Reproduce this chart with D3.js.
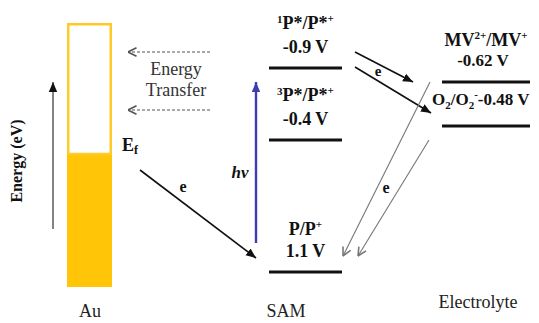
<!DOCTYPE html>
<html>
<head>
<meta charset="utf-8">
<script src="https://cdn.jsdelivr.net/npm/d3@7/dist/d3.min.js"></script>
<style>
  html, body { margin: 0; padding: 0; background: #fff; }
  svg { display: block; }
  text { font-family: "Liberation Serif", "Times New Roman", Times, serif; }
</style>
</head>
<body>
<svg id="chart" width="539" height="323"></svg>
<script>
// Redox levels (V) of the monolayer (SAM) and of the electrolyte couples
const samLevels = [-0.9, -0.4, 1.1];
const samCouples = [["1", "P*/P*", "+"], ["3", "P*/P*", "+"], ["", "P/P", "+"]];
const electrolyteLevels = [-0.62, -0.48];
const columns = ["Au", "SAM", "Electrolyte"];

const svg = d3.select("#chart");
const SERIF = "'Liberation Serif', 'Times New Roman', Times, serif";

// Schematic (non-proportional) energy axis: levels keep their order only
const y = d3.scaleLinear()
  .domain([-0.9, -0.62, -0.48, -0.4, 1.1])
  .range([68, 82, 126, 140, 272]);

// Column centres
const x = d3.scaleOrdinal().domain(columns).range([89.5, 305.5, 486]);

const defs = svg.append("defs");
function filledHead(id, color) {
  defs.append("marker").attr("id", id)
    .attr("viewBox", "0 0 10 10").attr("refX", 10).attr("refY", 5)
    .attr("markerWidth", 10).attr("markerHeight", 10)
    .attr("markerUnits", "userSpaceOnUse")
    .attr("orient", "auto")
    .append("path").attr("d", "M0,0.8 L10,5 L0,9.2 Z").attr("fill", color);
}
function openHead(id, color) {
  defs.append("marker").attr("id", id)
    .attr("viewBox", "0 0 10 10").attr("refX", 9.5).attr("refY", 5)
    .attr("markerWidth", 10).attr("markerHeight", 10)
    .attr("markerUnits", "userSpaceOnUse")
    .attr("orient", "auto")
    .append("path").attr("d", "M1,0.8 L9.5,5 L1,9.2").attr("fill", "none")
    .attr("stroke", color).attr("stroke-width", 1.6);
}
filledHead("hBlack", "#111");
filledHead("hBlue", "#3d3db5");
openHead("hGrey", "#777");
openHead("hDash", "#555");

function arrow(x1, y1, x2, y2, opts) {
  return svg.append("line")
    .attr("x1", x1).attr("y1", y1).attr("x2", x2).attr("y2", y2)
    .attr("stroke", opts.color).attr("stroke-width", opts.width)
    .attr("stroke-dasharray", opts.dash || null)
    .attr("marker-end", `url(#${opts.head})`);
}

function label(xx, yy, opts = {}) {
  return svg.append("text").attr("x", xx).attr("y", yy)
    .attr("text-anchor", opts.anchor || "middle")
    .attr("font-family", SERIF)
    .attr("font-size", opts.size || 18)
    .attr("font-weight", opts.bold ? "bold" : "normal")
    .attr("font-style", opts.italic ? "italic" : "normal")
    .attr("fill", opts.color || "#111");
}

// ---- Au electrode: empty band above the Fermi level, filled below ----
const au = { x: 67, w: 45, top: 23, ef: 154, bottom: 287 };
svg.append("rect").attr("x", au.x).attr("y", au.ef).attr("width", au.w)
  .attr("height", au.bottom - au.ef).attr("fill", "#ffc506");
svg.append("rect").attr("x", au.x + 1.25).attr("y", au.top + 1.25).attr("width", au.w - 2.5)
  .attr("height", au.ef - au.top - 1.25).attr("fill", "none")
  .attr("stroke", "#ffc928").attr("stroke-width", 2.5);

// Energy axis arrow
arrow(53, 229, 53, 82, { color: "#777", width: 1.8, head: "hBlack" });
label(0, 0, { size: 16, bold: true }).attr("x", null).attr("y", null)
  .attr("transform", "translate(22,161) rotate(-90)").text("Energy (eV)");

// Fermi level label
const ef = label(122, 151, { anchor: "start", bold: true });
ef.append("tspan").text("E");
ef.append("tspan").attr("font-size", 12).attr("dy", 3).text("f");

// Energy transfer arrows (dashed, pointing into the metal)
[52, 110].forEach(yy => arrow(210, yy, 128, yy, { color: "#555", width: 1.1, dash: "3,2", head: "hDash" }));
label(176, 75, { color: "#333" }).text("Energy");
label(176, 96, { color: "#333" }).text("Transfer");

// ---- SAM levels ----
const samHalf = 36.5;
svg.selectAll("line.sam").data(samLevels).join("line").attr("class", "sam")
  .attr("x1", x("SAM") - samHalf).attr("x2", x("SAM") + samHalf)
  .attr("y1", d => y(d)).attr("y2", d => y(d))
  .attr("stroke", "#111").attr("stroke-width", 3.2);

const fmtV = v => (v < 0 ? "-" : "") + d3.format(".1f")(Math.abs(v)) + " V";
samLevels.forEach((v, i) => {
  const [pre, body, sup] = samCouples[i];
  const t = label(x("SAM"), y(v) - (pre ? 39 : 37), { bold: true });
  if (pre) t.append("tspan").attr("font-size", 11).attr("dy", -6).text(pre);
  t.append("tspan").attr("dy", pre ? 6 : 0).text(body);
  t.append("tspan").attr("font-size", 11).attr("dy", -7).text(sup);
  label(x("SAM"), y(v) - 15, { bold: true }).text(fmtV(v));
});

// Photoexcitation
arrow(256, 243, 256, 82, { color: "#3d3db5", width: 2.4, head: "hBlue" });
label(240, 178, { size: 17, bold: true, italic: true }).text("hν");

// Electron from the Fermi level to the oxidized ground state
arrow(140, 170, 256, 258, { color: "#111", width: 1.6, head: "hBlack" });
label(183, 192, { size: 16, bold: true }).text("e");

// ---- Electrolyte levels ----
const elHalf = 44;
svg.selectAll("line.el").data(electrolyteLevels).join("line").attr("class", "el")
  .attr("x1", x("Electrolyte") - elHalf).attr("x2", x("Electrolyte") + elHalf)
  .attr("y1", d => y(d)).attr("y2", d => y(d))
  .attr("stroke", "#111").attr("stroke-width", 3.2);

const mv = label(x("Electrolyte"), y(-0.62) - 36, { bold: true });
mv.append("tspan").text("MV");
mv.append("tspan").attr("font-size", 11).attr("dy", -7).text("2+");
mv.append("tspan").attr("dy", 7).text("/MV");
mv.append("tspan").attr("font-size", 11).attr("dy", -7).text("+");
label(x("Electrolyte") - 3, y(-0.62) - 16, { size: 17, bold: true })
  .text(d3.format(".2f")(electrolyteLevels[0]).replace("−", "-") + " V");

const o2 = label(432, y(-0.48) - 21, { anchor: "start", size: 17, bold: true });
o2.append("tspan").text("O");
o2.append("tspan").attr("font-size", 11).attr("dy", 4).text("2");
o2.append("tspan").attr("dy", -4).text("/O");
o2.append("tspan").attr("font-size", 11).attr("dy", 4).text("2");
o2.append("tspan").attr("font-size", 11).attr("dy", -11).text("-");
o2.append("tspan").attr("dy", 7).text(d3.format(".2f")(electrolyteLevels[1]).replace("−", "-") + " V");

// Electron injection from the excited state into the acceptors
arrow(355, 52, 413, 82, { color: "#111", width: 1.6, head: "hBlack" });
arrow(355, 67, 431, 113, { color: "#111", width: 1.6, head: "hBlack" });
label(378, 76, { size: 15, bold: true }).text("e");

// Back electron transfer to the oxidized ground state
arrow(430, 82, 343, 256, { color: "#777", width: 1.1, head: "hGrey" });
arrow(429, 140, 358, 256, { color: "#777", width: 1.1, head: "hGrey" });
label(386, 193, { size: 16, bold: true }).text("e");

// Column captions
label(90, 317, { color: "#222" }).text("Au");
label(286, 317, { color: "#222" }).text("SAM");
label(478, 308, { color: "#222" }).text("Electrolyte");
</script>
</body>
</html>
